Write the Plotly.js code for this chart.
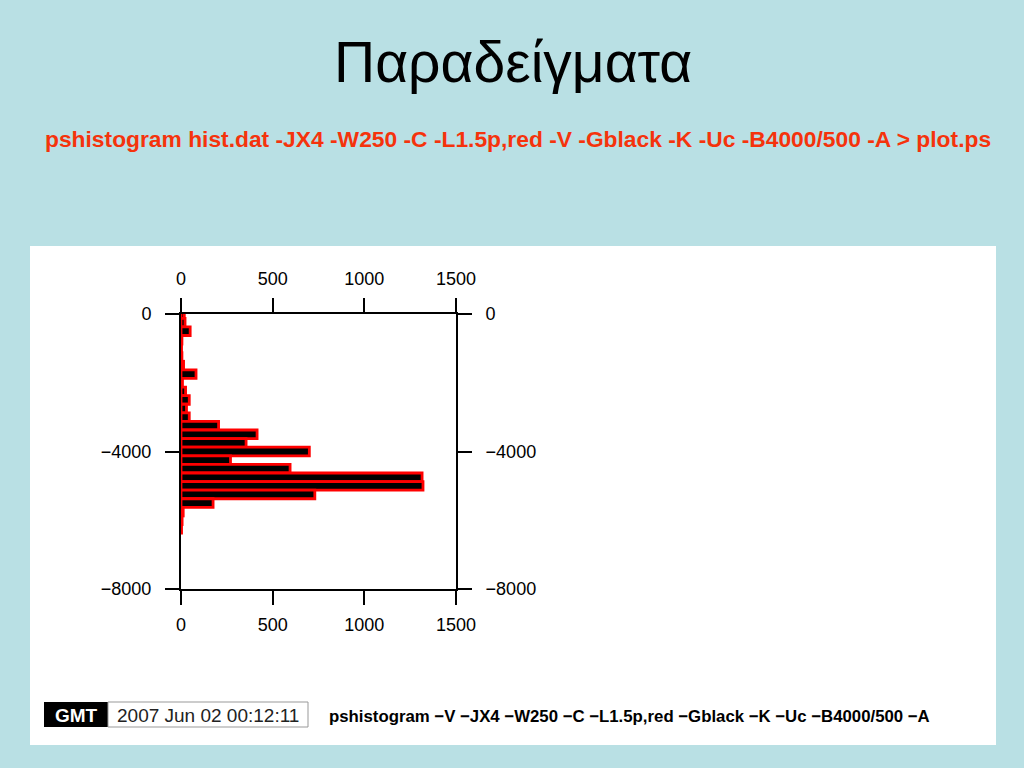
<!DOCTYPE html>
<html>
<head>
<meta charset="utf-8">
<script src="https://cdn.plot.ly/plotly-3.0.1.min.js"></script>
<style>html,body{margin:0;padding:0;background:#b9e0e4;}#chart{width:1024px;height:768px;}</style>
</head>
<body>
<div id="chart"></div>
<script>
// Histogram bin centres (depth, bin width 250) and counts
const binCenters = [0, -250, -500, -750, -1000, -1250, -1500, -1750, -2000, -2250, -2500, -2750, -3000, -3250, -3500, -3750, -4000, -4250, -4500, -4750, -5000, -5250, -5500, -5750, -6000, -6250];
const counts = [18, 22, 50, 5, 3, 5, 14, 82, 8, 25, 45, 30, 45, 205, 415, 355, 700, 270, 595, 1315, 1320, 730, 175, 12, 6, 3];
const binWidth = 250;
const xTicks = [0, 500, 1000, 1500];
const yTicks = [0, -4000, -8000];
const titleText = "Παραδείγματα";
const subtitleText = "pshistogram hist.dat -JX4 -W250 -C -L1.5p,red -V -Gblack -K -Uc -B4000/500 -A > plot.ps";
const footerCmd = "pshistogram −V −JX4 −W250 −C −L1.5p,red −Gblack −K −Uc −B4000/500 −A";
const stampText = "2007 Jun 02 00:12:11";

const W = 1024, H = 768;
const px = v => v / W;
const py = v => 1 - v / H;

const tickFont = {family: "Liberation Sans, Arial, sans-serif", size: 18, color: "#000"};
const axBase = {
  showgrid: false, zeroline: false, showline: true, linecolor: "#000", linewidth: 2,
  ticks: "outside", ticklen: 14, tickwidth: 2, tickcolor: "#000", tickfont: tickFont
};

const traces = [
  {
    type: "bar", orientation: "h",
    y: binCenters, x: counts, width: binWidth,
    marker: {color: "#000", line: {color: "#ff0000", width: 2.8}},
    xaxis: "x", yaxis: "y", hoverinfo: "none"
  },
  {
    type: "scatter", mode: "markers", x: [], y: [],
    xaxis: "x2", yaxis: "y2", showlegend: false, hoverinfo: "none"
  }
];

const ann = (text, x, y, size, color, extra) => Object.assign({
  text: text, xref: "paper", yref: "paper", x: px(x), y: py(y), showarrow: false,
  xanchor: "center", yanchor: "middle",
  font: {family: "Liberation Sans, Arial, sans-serif", size: size, color: color}
}, extra || {});

const layout = {
  width: W, height: H,
  margin: {l: 0, r: 0, t: 0, b: 0},
  paper_bgcolor: "#b9e0e4",
  plot_bgcolor: "#ffffff",
  showlegend: false,
  bargap: 0,
  xaxis: Object.assign({}, axBase, {
    domain: [px(181), px(456)], range: [0, 1500], tickvals: xTicks,
    side: "bottom", anchor: "y", ticklabelstandoff: 4
  }),
  xaxis2: Object.assign({}, axBase, {
    domain: [px(181), px(456)], range: [0, 1500], tickvals: xTicks,
    side: "top", anchor: "y", overlaying: "x", ticklabelstandoff: 6
  }),
  yaxis: Object.assign({}, axBase, {
    domain: [py(589), py(314)], range: [-8000, 0], tickvals: yTicks,
    side: "left", anchor: "x", ticklabelstandoff: 10
  }),
  yaxis2: Object.assign({}, axBase, {
    domain: [py(589), py(314)], range: [-8000, 0], tickvals: yTicks,
    side: "right", anchor: "x", overlaying: "y", ticklabelstandoff: 10
  }),
  shapes: [
    {type: "rect", xref: "paper", yref: "paper", x0: px(30), x1: px(996), y0: py(745), y1: py(246),
     fillcolor: "#ffffff", line: {width: 0}, layer: "below"},
    {type: "rect", xref: "paper", yref: "paper", x0: px(44), x1: px(108), y0: py(727), y1: py(702),
     fillcolor: "#000000", line: {width: 0}},
    {type: "rect", xref: "paper", yref: "paper", x0: px(108), x1: px(308), y0: py(727), y1: py(702),
     fillcolor: "#ffffff", line: {color: "#999999", width: 1}}
  ],
  annotations: [
    ann(titleText, 513, 62, 57, "#000"),
    ann("<b>" + subtitleText + "</b>", 518, 139, 22.8, "#f5330c"),
    ann("<b>GMT</b>", 76, 715, 19, "#ffffff"),
    ann(stampText, 208, 715, 19, "#222"),
    ann("<b>" + footerCmd + "</b>", 327, 716, 16.8, "#000", {xanchor: "left"})
  ]
};

Plotly.newPlot("chart", traces, layout, {staticPlot: true});
</script>
</body>
</html>
